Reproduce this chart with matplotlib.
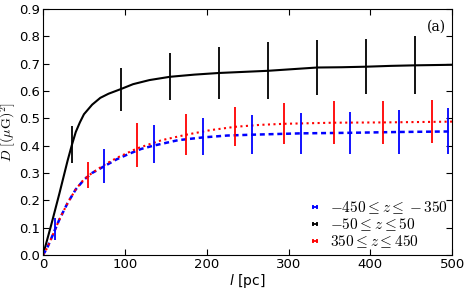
import matplotlib
matplotlib.use('Agg')
import matplotlib.pyplot as plt
from matplotlib.lines import Line2D

# curves
l_black = [0, 10, 20, 30, 35, 40, 45, 50, 60, 70, 80, 95, 110, 130, 155, 185,
           215, 245, 275, 305, 335, 365, 395, 425, 455, 500]
D_black = [0, 0.11, 0.225, 0.345, 0.40, 0.45, 0.485, 0.515, 0.55, 0.575, 0.59,
           0.607, 0.625, 0.64, 0.652, 0.66, 0.666, 0.67, 0.674, 0.68, 0.686,
           0.687, 0.689, 0.692, 0.694, 0.696]

l_blue = [0, 5, 10, 15, 20, 30, 40, 50, 60, 75, 90, 105, 120, 135, 165, 195,
          225, 255, 315, 375, 435, 500]
D_blue = [0, 0.025, 0.06, 0.095, 0.13, 0.19, 0.24, 0.275, 0.30, 0.325, 0.35,
          0.37, 0.388, 0.40, 0.42, 0.43, 0.437, 0.44, 0.445, 0.447, 0.45, 0.452]

l_red = [0, 5, 10, 15, 20, 30, 40, 50, 60, 75, 90, 115, 145, 175, 205, 235,
         265, 295, 355, 415, 475, 500]
D_red = [0, 0.025, 0.06, 0.095, 0.13, 0.19, 0.24, 0.277, 0.30, 0.33, 0.355,
         0.39, 0.42, 0.44, 0.457, 0.469, 0.476, 0.48, 0.484, 0.485, 0.487, 0.488]

# error bars
l_black_err = [35, 95, 155, 215, 275, 335, 395, 455]
D_black_err = [0.405, 0.605, 0.653, 0.666, 0.675, 0.685, 0.689, 0.694]
e_black = [0.068, 0.078, 0.087, 0.096, 0.103, 0.101, 0.101, 0.106]

l_blue_err = [15, 75, 135, 195, 255, 315, 375, 435, 495]
D_blue_err = [0.094, 0.325, 0.405, 0.432, 0.44, 0.445, 0.447, 0.45, 0.453]
e_blue = [0.041, 0.063, 0.07, 0.068, 0.072, 0.075, 0.077, 0.08, 0.083]

l_red_err = [55, 115, 175, 235, 295, 355, 415, 475]
D_red_err = [0.293, 0.403, 0.44, 0.469, 0.481, 0.485, 0.485, 0.488]
e_red = [0.047, 0.08, 0.075, 0.072, 0.075, 0.08, 0.08, 0.08]

labels = [r'$-450 \leq z \leq -350$', r'$-50 \leq z \leq 50$',
          r'$350 \leq z \leq 450$']

plt.rcParams['mathtext.fontset'] = 'cm'

fig = plt.figure(figsize=(4.73, 2.92), dpi=100)
ax = fig.add_axes([0.091, 0.127, 0.865, 0.842])

ax.plot(l_black, D_black, color='black', lw=1.5)
ax.plot(l_blue, D_blue, color='blue', lw=1.8, ls='--', dashes=(2, 1.5))
ax.plot(l_red, D_red, color='red', lw=1.5, ls=':')

ax.errorbar(l_blue_err, D_blue_err, yerr=e_blue, fmt='none', ecolor='blue', elinewidth=1.3)
ax.errorbar(l_black_err, D_black_err, yerr=e_black, fmt='none', ecolor='black', elinewidth=1.3)
ax.errorbar(l_red_err, D_red_err, yerr=e_red, fmt='none', ecolor='red', elinewidth=1.3)

ax.set_xlim(0, 500)
ax.set_ylim(0, 0.9)
ax.set_xticks([0, 100, 200, 300, 400, 500])
ax.set_yticks([0.0, 0.1, 0.2, 0.3, 0.4, 0.5, 0.6, 0.7, 0.8, 0.9])
ax.set_yticklabels(['%.1f' % v for v in ax.get_yticks()])
ax.tick_params(direction='in', top=True, right=True, length=4, labelsize=9.5, pad=2)

ax.set_xlabel(r'$l$ [pc]', fontsize=10, labelpad=1, math_fontfamily='dejavusans')
ax.set_ylabel(r'$D\ [(\mu\mathrm{G})^2]$', fontsize=10, labelpad=1)
ax.text(0.985, 0.955, '(a)', transform=ax.transAxes, ha='right', va='top',
        fontsize=10, family='serif', math_fontfamily='cm')

handles = [Line2D([], [], color=c, marker='|', markersize=3.5, lw=1.3, mew=1.3)
           for c in ['blue', 'black', 'red']]
ax.legend(handles, labels, loc='lower right', frameon=False, numpoints=2,
          handlelength=0.9, handletextpad=0.5, fontsize=11, labelspacing=0.0,
          borderaxespad=0.0, borderpad=0.3)

fig.savefig('out.png', dpi=100)
